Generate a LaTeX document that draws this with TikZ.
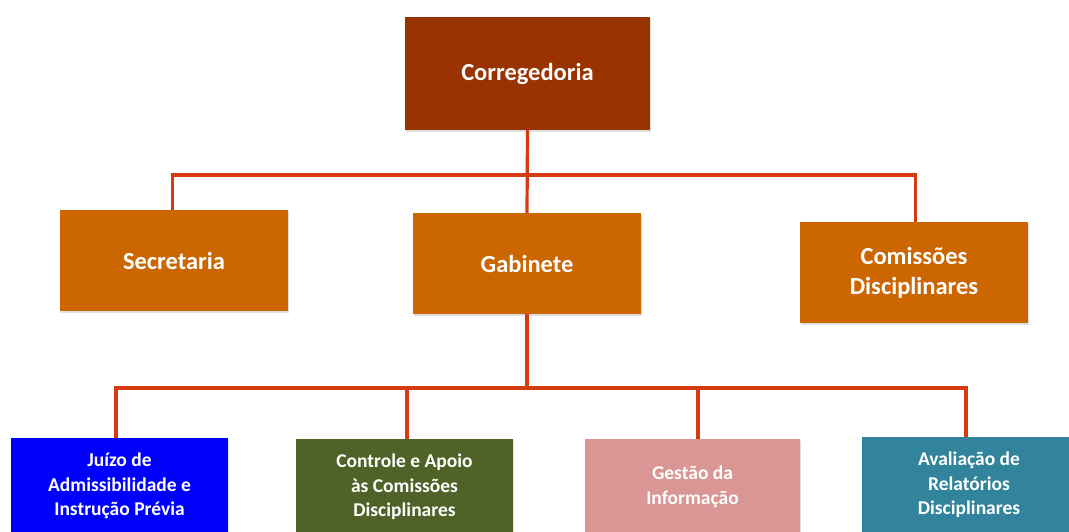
\documentclass[tikz,border=0pt]{standalone}
\usepackage{fontspec}
\setmainfont{Carlito}
\usetikzlibrary{shadows}
\definecolor{cTop}{HTML}{993300}
\definecolor{cMid}{HTML}{CC6600}
\definecolor{cBlue}{HTML}{0000FF}
\definecolor{cOlive}{HTML}{4F6228}
\definecolor{cPink}{HTML}{D99694}
\definecolor{cTeal}{HTML}{31849B}
\definecolor{cLine}{RGB}{214,58,16}
\begin{document}
\begin{tikzpicture}[x=1pt,y=-1pt,
  box/.style={rectangle, inner sep=0pt, text=white, align=center,
    font=\bfseries, drop shadow={shadow xshift=1pt, shadow yshift=-2pt, opacity=0.25}},
  topbox/.style={box, minimum width=245, minimum height=113, font=\bfseries\fontsize{24.5}{28}\selectfont},
  midbox/.style={box, minimum width=228, minimum height=101, font=\bfseries\fontsize{24.5}{30}\selectfont},
  lowbox/.style={box, minimum height=96, font=\bfseries\fontsize{19.5}{24.5}\selectfont},
  conn/.style={draw=cLine, line width=3.2pt}]
\useasboundingbox (0,0) rectangle (1069,531);
\clip (0,0) rectangle (1069,531);
\fill[white] (0,0) rectangle (1069,531);

\node[topbox, fill=cTop] (corr) at (527.5,73.5) {Corregedoria};

\node[midbox, fill=cMid] (sec) at (174,260.5) {Secretaria};
\node[midbox, fill=cMid] (gab) at (527,263.5) {Gabinete};
\node[midbox, fill=cMid] (com) at (914,272.5) {Comissões\\Disciplinares};

\node[lowbox, fill=cBlue, minimum width=217] (juizo) at (119.5,486) {Juízo de\\Admissibilidade e\\Instrução Prévia};
\node[lowbox, fill=cOlive, minimum width=217] (ctrl) at (404.5,487) {Controle e Apoio\\às Comissões\\Disciplinares};
\node[lowbox, fill=cPink, minimum width=215] (gest) at (692.5,487) {Gestão da\\Informação};
\node[lowbox, fill=cTeal, minimum width=214] (aval) at (969,485) {Avaliação de\\Relatórios\\Disciplinares};

\coordinate (bus1) at (527,175);
\coordinate (bus2) at (527,388);

\draw[conn] (corr.south) -- (gab.north);
\draw[conn] ([xshift=-1.5pt]sec.north) |- (bus1) -| ([xshift=1.5pt]com.north);
\draw[conn] (gab.south) -- (bus2);
\draw[conn] ([xshift=-3.5pt]juizo.north) |- (bus2) -| ([xshift=-3pt]aval.north);
\draw[conn] ([xshift=2.5pt]ctrl.north) -- ([xshift=2.5pt]ctrl.north |- bus2);
\draw[conn] ([xshift=5.5pt]gest.north) -- ([xshift=5.5pt]gest.north |- bus2);
\end{tikzpicture}
\end{document}
